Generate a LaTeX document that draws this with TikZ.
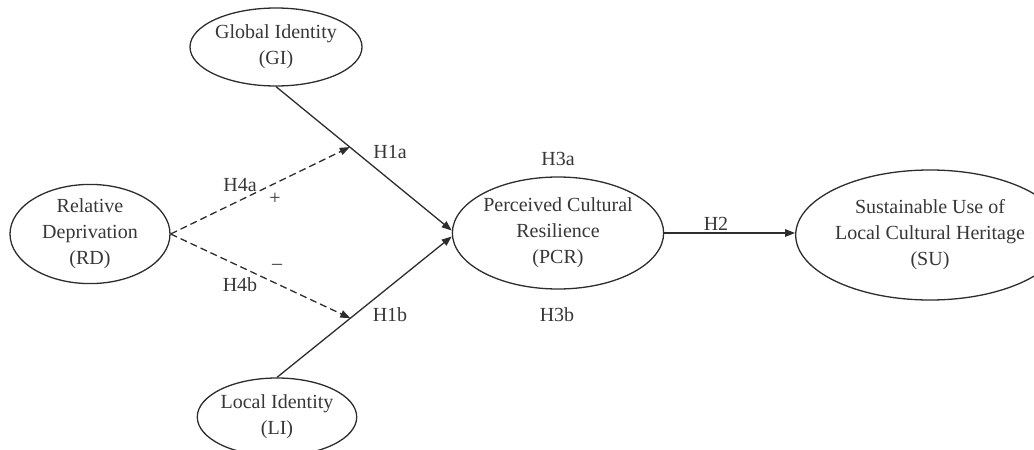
\documentclass[tikz,border=0pt]{standalone}
\usepackage{fontspec}
\setmainfont{Liberation Serif}
\usetikzlibrary{shapes.geometric,arrows.meta,calc}
\definecolor{ink}{RGB}{45,45,45}
\definecolor{txt}{RGB}{55,55,55}
\begin{document}
\begin{tikzpicture}[x=1pt,y=-1pt,
  construct/.style={ellipse,draw=ink,line width=1.3pt,inner sep=0pt,align=center,
    text=txt,font=\fontsize{20}{26}\selectfont},
  lbl/.style={text=txt,font=\fontsize{20}{24}\selectfont,inner sep=0pt},
  path/.style={draw=ink,line width=1.3pt,-{Triangle[length=10pt,width=7.5pt]}},
  modpath/.style={path,dash pattern=on 7pt off 4pt}]
\useasboundingbox (0,0) rectangle (1034,450);
\node[construct,minimum width=160pt,minimum height=78pt] (GI) at (276,47) {Global Identity\\(GI)};
\node[construct,minimum width=158pt,minimum height=78pt] (LI) at (277,417) {Local Identity\\(LI)};
\node[construct,minimum width=160pt,minimum height=76pt] (RD) at (90,234) {Relative\\Deprivation\\(RD)};
\node[construct,minimum width=190pt,minimum height=112pt] (PCR) at (558,233) {Perceived Cultural\\Resilience\\(PCR)};
\node[construct,minimum width=208pt,minimum height=130pt] (SU) at (930,235) {Sustainable Use of\\Local Cultural Heritage\\(SU)};
\coordinate (pa) at ($(PCR.west)+(0,-2.5)$);
\coordinate (pb) at ($(PCR.west)+(0,3.5)$);
\coordinate (ma) at ($(GI.south)!0.42!(pa)$);
\coordinate (mb) at ($(LI.north)!0.42!(pb)$);
\draw[path] (GI.south) -- (pa);
\draw[path] (LI.north) -- (pb);
\draw[path] (PCR.east) -- (PCR.east -| SU.west);
\draw[modpath] (RD.east) -- (ma);
\draw[modpath] (RD.east) -- (mb);
\node[lbl] (h1a) at (390,152) {H1a};
\node[lbl] (h1b) at (390,315) {H1b};
\node[lbl] (h4a) at (240,185) {H4a};
\node[lbl] (h4b) at (240,285) {H4b};
\node[lbl] (plus) at (275,199) {+};
\node[lbl] (minus) at (277,267) {–};
\node[lbl] (h3a) at (558,159) {H3a};
\node[lbl] (h3b) at (557,315) {H3b};
\node[lbl] (h2) at (716,224) {H2};
\end{tikzpicture}
\end{document}
